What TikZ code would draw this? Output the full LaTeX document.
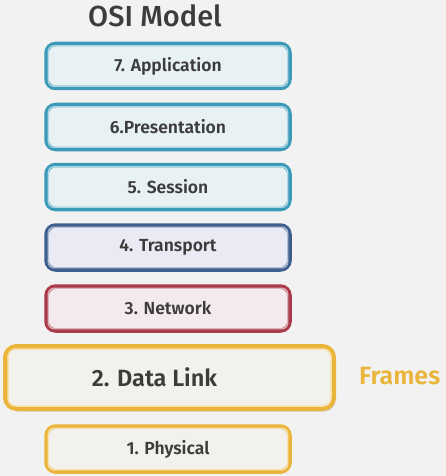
\documentclass[tikz,border=0pt]{standalone}
\usepackage{fontspec}
\setmainfont{Fira Sans}
\newfontfamily\medfont{Fira Sans SemiBold}
\newfontfamily\titlefont{Fira Sans Medium}
\usetikzlibrary{shadows}
\definecolor{bg}{HTML}{F2F2F2}
\definecolor{txt}{HTML}{3C3C3C}
\definecolor{teal}{HTML}{3A9AB8}
\definecolor{tealfill}{HTML}{E8F1F4}
\definecolor{navy}{HTML}{3E5F8E}
\definecolor{navyfill}{HTML}{E9EAF4}
\definecolor{wine}{HTML}{A83A4A}
\definecolor{winefill}{HTML}{F4E9EC}
\definecolor{gold}{HTML}{EAB53A}
\definecolor{goldfill}{HTML}{F3F1EB}
\tikzset{
  layer/.style={draw=#1, fill=#1fill, line width=4.5pt, rounded corners=9pt, minimum width=243pt, minimum height=44pt,
    font=\medfont\fontsize{17.5}{20}\selectfont, text=txt},
  inring/.style={draw=#1!40!white, line width=1.3pt, rounded corners=6pt},
}
\begin{document}
\begin{tikzpicture}[x=1pt,y=-1pt]
\fill[bg] (0,0) rectangle (446,476);
\useasboundingbox (0,0) rectangle (446,476);
\node[font=\titlefont\fontsize{29}{33}\selectfont, text=txt] (title) at (155,16) {OSI Model};
\node[layer=teal] (l7) at (168,66) {7. Application};
\node[layer=teal] (l6) at (168,127) {6.Presentation};
\node[layer=teal] (l5) at (168,187) {5. Session};
\node[layer=navy] (l4) at (168,247.5) {4. Transport};
\node[layer=wine] (l3) at (168,308.5) {3. Network};
\node[draw=gold, fill=goldfill, line width=5pt, rounded corners=11pt, minimum width=328pt, minimum height=62pt, font=\medfont\fontsize{23.5}{27}\selectfont, text=txt, drop shadow={shadow xshift=2pt, shadow yshift=-3pt, opacity=0.3}] (l2) at (169.5,377.5) {2. Data Link\hspace*{30pt}};
\node[layer=gold, minimum height=45pt] (l1) at (168,449) {1. Physical};
% inner light rings
\foreach \n/\c in {l7/teal,l6/teal,l5/teal,l4/navy,l3/wine,l1/gold}{
  \draw[inring=\c] ([xshift=4pt,yshift=-4pt]\n.north west) rectangle ([xshift=-4pt,yshift=4pt]\n.south east);
}
\draw[draw=gold!40!white, line width=1.5pt, rounded corners=8pt] ([xshift=5pt,yshift=-5pt]l2.north west) rectangle ([xshift=-5pt,yshift=5pt]l2.south east);
\node[font=\medfont\fontsize{25}{29}\selectfont, text=gold, anchor=west, inner sep=0pt] (frames) at (359,376) {Frames};
\end{tikzpicture}
\end{document}
